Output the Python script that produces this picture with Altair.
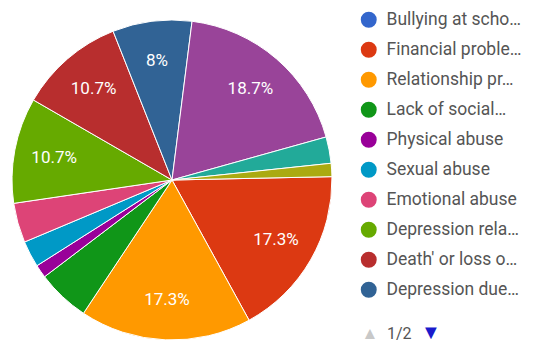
import math
import altair as alt
import pandas as pd

# ---- data ----
categories = [
    "Bullying at scho…", "Financial proble…", "Relationship pr…", "Lack of social…",
    "Physical abuse", "Sexual abuse", "Emotional abuse", "Depression rela…",
    "Death' or loss o…", "Depression due…", "Other 1", "Other 2", "Other 3",
]
counts = [0, 13, 13, 4, 1, 2, 3, 8, 8, 6, 14, 2, 1]
# clockwise position of each slice, starting near 12 o'clock
pie_sequence = [3, 4, 5, 6, 7, 8, 9, 10, 11, 12, 0, 1, 2]
colors = [
    "#3366cc", "#dc3912", "#ff9900", "#109618", "#990099", "#0099c6", "#dd4477",
    "#66aa00", "#b82e2e", "#316395", "#994499", "#22aa99", "#aaaa11",
]
legend_page = categories[:10]
page_text = ["1/2"]

df = pd.DataFrame({"reason": categories, "count": counts, "seq": pie_sequence})

start = 7.2 * math.pi / 180
theta = alt.Theta("count:Q", stack=True,
                  scale=alt.Scale(range=[start, start + 2 * math.pi]))
order = alt.Order("seq:Q", sort="ascending")

base = (
    alt.Chart(df)
    .transform_filter("datum.count > 0")
    .transform_joinaggregate(total="sum(count)")
    .transform_calculate(
        pct="datum.count / datum.total * 100",
        label="datum.pct >= 7.5 ? format(datum.pct, '.3~r') + '%' : ''",
    )
)

arcs = base.mark_arc(outerRadius=160, stroke="white", strokeWidth=1).encode(
    theta=theta,
    order=order,
    x=alt.value(164),
    y=alt.value(172),
    color=alt.Color(
        "reason:N",
        scale=alt.Scale(domain=categories, range=colors),
        legend=alt.Legend(
            values=legend_page,
            title=None,
            orient="none",
            legendX=352,
            legendY=3,
            padding=0,
            symbolType="circle",
            symbolSize=254,
            symbolStrokeWidth=0,
            symbolOpacity=1,
            labelFont="Roboto",
            labelFontSize=17.5,
            labelColor="#555555",
            labelLimit=300,
            labelOffset=9,
            rowPadding=11,
        ),
    ),
)

labels = base.mark_text(radius=120, font="Roboto", fontSize=17, color="white").encode(
    theta=theta,
    order=order,
    x=alt.value(164),
    y=alt.value(172),
    text="label:N",
)

pg = pd.DataFrame({"t": page_text})
up = alt.Chart(pg).mark_text(text="▲", fontSize=17, color="#c8c8c8", baseline="alphabetic").encode(
    x=alt.value(362), y=alt.value(331))
pnum = alt.Chart(pg).mark_text(font="Roboto", fontSize=16, color="#555555",
                               align="left", baseline="alphabetic").encode(
    x=alt.value(379), y=alt.value(331), text="t:N")
down = alt.Chart(pg).mark_text(text="▼", fontSize=20, color="#1a1acc", baseline="alphabetic").encode(
    x=alt.value(423), y=alt.value(331))

chart = (
    alt.layer(arcs, labels, up, pnum, down)
    .properties(width=517, height=334, padding=0, autosize="none", background="white")
    .configure_view(stroke=None)
)

chart.save("out.html", embed_options={"renderer": "svg", "actions": False})
